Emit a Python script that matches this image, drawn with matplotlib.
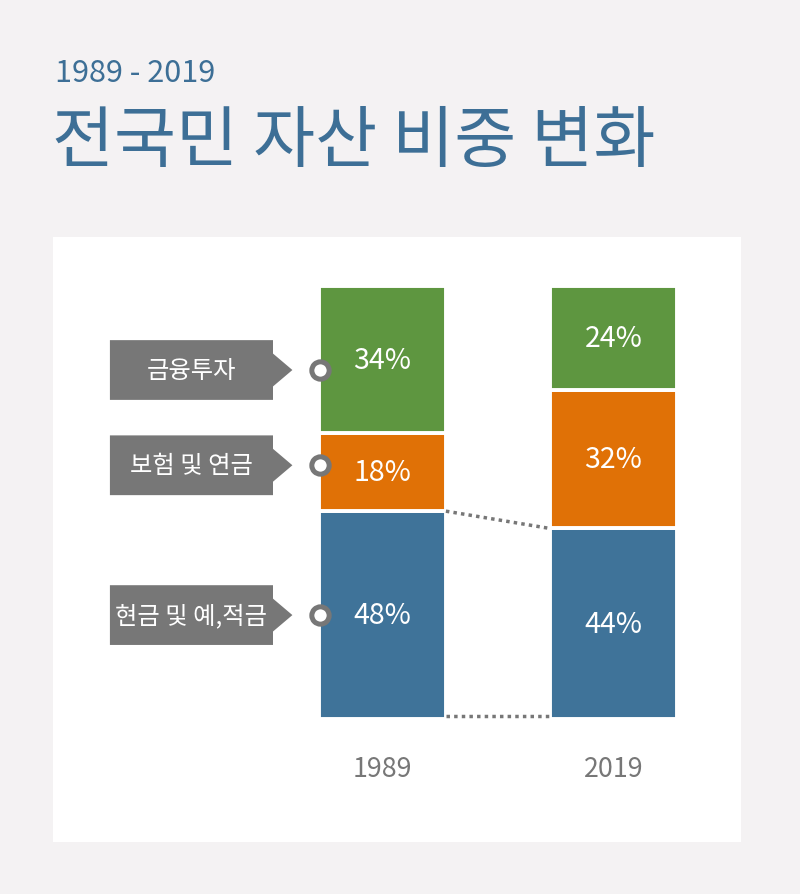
import matplotlib.pyplot as plt
from matplotlib.patches import Polygon

plt.rcParams['font.family'] = ['Noto Sans CJK KR', 'DejaVu Sans']

years = ["1989", "2019"]
categories = ["현금 및 예,적금", "보험 및 연금", "금융투자"]
shares_1989 = [48, 18, 34]
shares_2019 = [44, 32, 24]
colors = ["#3f7399", "#e07106", "#5e9640"]

BG = "#f4f2f3"
TITLE_BLUE = "#3d6f96"
GREY = "#777777"

W, H = 800, 895
fig = plt.figure(figsize=(W / 100, H / 100), dpi=100, facecolor=BG)

# white card holding the chart (pixel box 53..741 x 238..843)
ax = fig.add_axes([53 / W, 1 - 843 / H, (741 - 53) / W, (843 - 238) / H])
ax.set_facecolor("white")
ax.set_xlim(-1.4264, 1.552)
ax.set_ylim(-28.41, 111.32)
for s in ax.spines.values():
    s.set_visible(False)
ax.set_xticks([])
ax.set_yticks([])

bar_w = 0.549
xs = [0, 1]
data = [shares_1989, shares_2019]

for i, (xi, vals) in enumerate(zip(xs, data)):
    bottom = 0
    for v, c in zip(vals, colors):
        ax.bar(xi, v, bottom=bottom, width=bar_w, color=c,
               edgecolor="white", linewidth=2.8)
        ax.text(xi, bottom + v / 2, f"{v}%", ha="center", va="center",
                color="white", fontsize=20.5)
        bottom += v
    ax.text(xi, -11.5, years[i], ha="center", va="center",
            color=GREY, fontsize=19.3)

# dotted connectors between the blue segments
ax.plot([xs[0] + bar_w / 2, xs[1] - bar_w / 2],
        [shares_1989[0], shares_2019[0]], ls=(0, (1, 1.2)), color=GREY,
        lw=2.5, zorder=1)
ax.plot([xs[0] + bar_w / 2, xs[1] - bar_w / 2], [0.6, 0.6],
        ls=(0, (1, 1.2)), color=GREY, lw=2.5, zorder=1)

# callout labels for the 1989 bar
box_l, box_r, tip = -1.18, -0.474, -0.39
nudge = [0, 1.6, -2.4]
bottom = 0
for v, name, dy in zip(shares_1989, categories, nudge):
    yc = bottom + v / 2 + dy
    hh = 6.9
    poly = Polygon([[box_l, yc - hh], [box_r, yc - hh], [box_r, yc - hh * 0.55],
                    [tip, yc], [box_r, yc + hh * 0.55], [box_r, yc + hh],
                    [box_l, yc + hh]], closed=True, facecolor=GREY,
                   edgecolor="none")
    ax.add_patch(poly)
    ax.text((box_l + box_r) / 2, yc, name, ha="center", va="center",
            color="white", fontsize=17.5)
    ax.plot(xs[0] - bar_w / 2 + 0.005, yc, "o", ms=12.5, mfc="white",
            mec=GREY, mew=3.6, zorder=5, clip_on=False)
    bottom += v

fig.text(55 / W, 1 - 73 / H, "1989 - 2019", color=TITLE_BLUE, fontsize=22,
         ha="left", va="center")
fig.text(52 / W, 1 - 143 / H, "전국민 자산 비중 변화", color=TITLE_BLUE,
         fontsize=48.5, ha="left", va="center")

fig.savefig("out.png", dpi=100, facecolor=BG)
